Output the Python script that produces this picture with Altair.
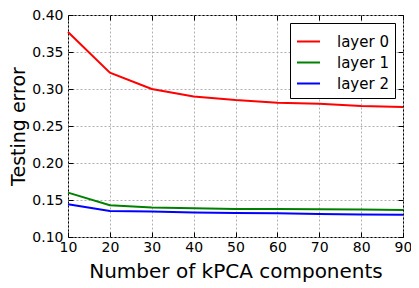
import altair as alt
import pandas as pd

components = [10, 20, 30, 40, 50, 60, 70, 80, 90]
layer0 = [0.377, 0.322, 0.300, 0.290, 0.285, 0.2815, 0.280, 0.277, 0.2757]
layer1 = [0.160, 0.143, 0.140, 0.139, 0.138, 0.138, 0.1375, 0.137, 0.1365]
layer2 = [0.1442, 0.135, 0.1343, 0.133, 0.1325, 0.132, 0.131, 0.1305, 0.130]
series_names = ["layer 0", "layer 1", "layer 2"]
series_colors = ["#ff0000", "#008000", "#0000ff"]
x_ticks = [10, 20, 30, 40, 50, 60, 70, 80, 90]
y_ticks = [0.10, 0.15, 0.20, 0.25, 0.30, 0.35, 0.40]

rows = []
for name, vals in zip(series_names, [layer0, layer1, layer2]):
    for c, v in zip(components, vals):
        rows.append({"components": c, "error": v, "series": name})
df = pd.DataFrame(rows)

xscale = alt.Scale(domain=[10, 90], nice=False, zero=False)
yscale = alt.Scale(domain=[0.10, 0.40], nice=False, zero=False)

base = alt.Chart(df)

main = base.mark_line(strokeWidth=2).encode(
    x=alt.X("components:Q", scale=xscale,
            axis=alt.Axis(values=x_ticks, title="Number of kPCA components", format="d",
                          ticks=False, domain=False, grid=True, gridColor="#b0b0b0",
                          gridDash=[2, 2], labelFontSize=14, labelPadding=3,
                          titleFontSize=20, titleFontWeight="normal", titlePadding=7,
                          labelColor="black", titleColor="black", labelFlush=False)),
    y=alt.Y("error:Q", scale=yscale,
            axis=alt.Axis(values=y_ticks, title="Testing error", format=".2f",
                          ticks=False, domain=False, grid=True, gridColor="#b0b0b0",
                          gridDash=[2, 2], labelFontSize=14, labelPadding=5,
                          titleFontSize=19, titleFontWeight="normal", titlePadding=3,
                          labelColor="black", titleColor="black", labelFlush=False)),
    color=alt.Color("series:N", scale=alt.Scale(domain=series_names, range=series_colors),
                    legend=alt.Legend(title=None, orient="none", legendX=222, legendY=8,
                                      symbolType="stroke", symbolSize=529, symbolStrokeWidth=2,
                                      labelFontSize=15, labelOffset=16, rowPadding=0,
                                      strokeColor="black", fillColor="white", padding=6,
                                      labelColor="black", cornerRadius=0)),
)

ticks_lb = base.mark_line(opacity=0).encode(
    x=alt.X("components:Q", scale=xscale, axis=alt.Axis(values=x_ticks, orient="bottom", offset=-5, tickSize=5, tickColor="black", labels=False, domain=False, grid=False, title=None)),
    y=alt.Y("error:Q", scale=yscale, axis=alt.Axis(values=y_ticks, orient="left", offset=-5, tickSize=5, tickColor="black", labels=False, domain=False, grid=False, title=None)),
    detail="series:N",
)
ticks_tr = base.mark_line(opacity=0).encode(
    x=alt.X("components:Q", scale=xscale, axis=alt.Axis(values=x_ticks, orient="top", offset=-5, tickSize=5, tickColor="black", labels=False, domain=False, grid=False, title=None)),
    y=alt.Y("error:Q", scale=yscale, axis=alt.Axis(values=y_ticks, orient="right", offset=-5, tickSize=5, tickColor="black", labels=False, domain=False, grid=False, title=None)),
    detail="series:N",
)

chart = alt.layer(main, ticks_lb, ticks_tr).resolve_axis(
    x="independent", y="independent"
).properties(
    width=335, height=222,
    autosize=alt.AutoSizeParams(type="none"),
    padding={"left": 60, "top": 7, "right": 8, "bottom": 50},
).configure(font="DejaVu Sans").configure_view(stroke="black", strokeWidth=1)

chart.save("out.html", embed_options={"renderer": "svg", "actions": False})
